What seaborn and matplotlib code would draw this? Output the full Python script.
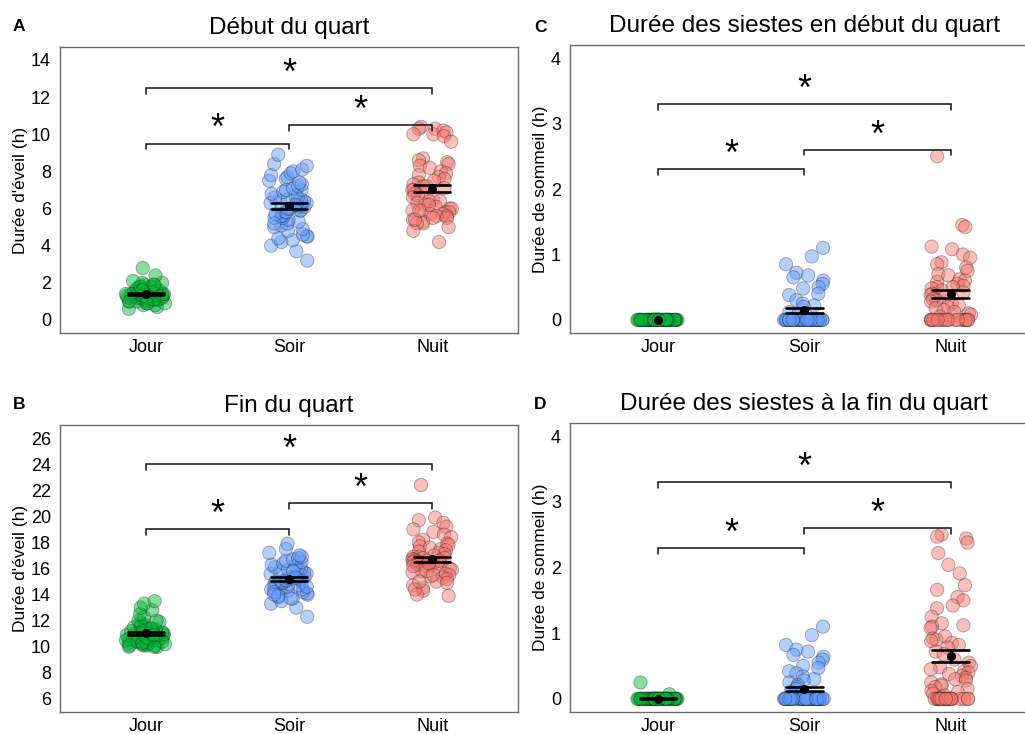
import numpy as np
import pandas as pd
import matplotlib
matplotlib.use("Agg")
import matplotlib.pyplot as plt
from matplotlib.collections import PathCollection
import seaborn as sns

sns.set_style("white")
plt.rcParams["font.family"] = ["Liberation Sans", "DejaVu Sans"]
plt.rcParams["text.color"] = "black"
plt.rcParams["axes.labelcolor"] = "black"

groups = ["Jour", "Soir", "Nuit"]
palette = {"Jour": "#00BA38", "Soir": "#619CFF", "Nuit": "#F8766D"}

# A - Durée d'éveil, début du quart (h)
a_jour = [0.6, 0.7, 0.8, 0.8, 0.9, 0.9, 1.0, 1.0, 1.0, 1.1,
          1.1, 1.1, 1.2, 1.2, 1.2, 1.2, 1.3, 1.3, 1.3, 1.3,
          1.3, 1.4, 1.4, 1.4, 1.4, 1.4, 1.4, 1.5, 1.5, 1.5,
          1.5, 1.5, 1.5, 1.6, 1.6, 1.6, 1.6, 1.7, 1.7, 1.7,
          1.7, 1.8, 1.8, 1.8, 1.9, 1.9, 2.0, 2.0, 2.1, 2.4,
          2.8, 1.3, 1.5, 1.2, 1.6, 1.4, 1.0, 1.1, 0.9, 1.9]
a_soir = [3.2, 3.7, 4.0, 4.2, 4.3, 4.4, 4.5, 4.5, 4.6, 4.8,
          4.9, 5.0, 5.1, 5.2, 5.3, 5.4, 5.5, 5.5, 5.6, 5.6,
          5.7, 5.8, 5.8, 5.9, 5.9, 6.0, 6.0, 6.1, 6.1, 6.2,
          6.2, 6.3, 6.3, 6.4, 6.4, 6.5, 6.5, 6.6, 6.6, 6.7,
          6.8, 6.9, 7.0, 7.0, 7.1, 7.2, 7.3, 7.4, 7.5, 7.6,
          7.7, 7.8, 7.9, 8.0, 8.1, 8.3, 8.4, 8.9, 6.2, 5.2]
a_nuit = [10.4, 10.3, 10.3, 10.2, 10.1, 10.0, 10.0, 9.9, 9.6,
          8.7, 8.6, 8.5, 8.4, 8.3, 8.2, 8.0, 7.9, 7.8, 7.7,
          7.6, 7.5, 7.4, 7.3, 7.2, 7.1, 7.0, 7.0, 6.9, 6.8,
          6.7, 6.6, 6.5, 6.4, 6.4, 6.3, 6.2, 6.1, 6.0, 6.0,
          5.9, 5.9, 5.8, 5.8, 5.7, 5.7, 5.6, 5.6, 5.5, 5.4,
          5.3, 5.2, 5.2, 5.0, 4.8, 4.2, 5.4, 7.2, 6.2, 5.9, 5.5]

# B - Durée d'éveil, fin du quart (h)
b_jour = [10.0, 10.0, 10.1, 10.1, 10.2, 10.2, 10.3, 10.3, 10.4, 10.4,
          10.5, 10.5, 10.6, 10.6, 10.7, 10.7, 10.8, 10.8, 10.9, 10.9,
          11.0, 11.0, 11.0, 11.1, 11.1, 11.2, 11.2, 11.3, 11.3, 11.4,
          11.5, 11.5, 11.6, 11.7, 11.8, 11.9, 12.0, 12.0, 10.6, 10.4,
          12.3, 12.5, 12.8, 13.0, 13.3, 13.5, 10.2, 10.4, 10.6, 10.8,
          11.0, 11.2, 11.4, 10.1, 10.3, 10.5, 10.1, 10.0, 10.7, 10.9]
b_soir = [12.3, 13.0, 13.3, 13.5, 13.7, 13.8, 14.0, 14.1, 14.2, 14.3,
          14.4, 14.5, 14.5, 14.6, 14.7, 14.8, 14.8, 14.9, 14.9, 15.0,
          15.0, 15.1, 15.1, 15.2, 15.2, 15.3, 15.3, 15.4, 15.4, 15.5,
          15.5, 15.6, 15.6, 15.7, 15.8, 15.9, 16.0, 16.0, 16.1, 16.2,
          16.3, 16.4, 16.5, 16.6, 16.7, 16.8, 16.9, 17.0, 17.2, 17.5,
          17.9, 14.4, 13.7, 15.8, 15.0, 14.6, 14.2, 13.9, 15.3, 14.0]
b_nuit = [22.4, 19.9, 19.7, 19.5, 19.2, 19.0, 18.8, 18.6, 18.4, 18.2,
          18.0, 17.9, 17.8, 17.7, 17.6, 17.5, 17.4, 17.3, 17.2, 17.1,
          17.0, 16.9, 16.9, 16.8, 16.8, 16.7, 16.7, 16.6, 16.6, 16.5,
          16.5, 16.4, 16.4, 16.3, 16.3, 16.2, 16.1, 16.0, 15.9, 15.8,
          15.7, 15.6, 15.5, 15.4, 15.3, 15.2, 15.0, 14.9, 14.7, 14.5,
          14.3, 14.0, 13.9, 16.2, 16.6, 14.4, 15.8, 16.4, 15.0, 15.5]

# C - Durée des siestes en début du quart (h)
c_jour = [0.0] * 60
c_soir = [1.1, 0.97, 0.85, 0.72, 0.68, 0.65, 0.6, 0.55, 0.5, 0.48,
          0.4, 0.38, 0.3, 0.25, 0.22, 0.2, 0.12, 0.08] + [0.0] * 44
c_nuit = [2.5, 1.45, 1.42, 1.12, 1.08, 1.0, 0.95, 0.88, 0.85, 0.8,
          0.75, 0.7, 0.68, 0.62, 0.6, 0.58, 0.55,
          0.52, 0.5, 0.5, 0.48, 0.45, 0.42, 0.4, 0.38, 0.35, 0.32,
          0.3, 0.28, 0.25, 0.22, 0.2, 0.18, 0.15, 0.12, 0.1, 0.08,
          0.05] + [0.0] * 19

# D - Durée des siestes à la fin du quart (h)
d_jour = [0.25, 0.07] + [0.0] * 58
d_soir = [1.1, 0.97, 0.82, 0.75, 0.72, 0.67, 0.64, 0.6, 0.55, 0.5,
          0.47, 0.42, 0.39, 0.34, 0.3, 0.28, 0.25, 0.21, 0.18, 0.15,
          0.1] + [0.0] * 48
d_nuit = [2.5, 2.47, 2.44, 2.38, 2.22, 2.04, 1.91, 1.73, 1.66, 1.55,
          1.5, 1.42, 1.38, 1.25, 1.15, 1.12, 1.1, 1.08, 0.95, 0.92,
          0.9, 0.88, 0.85, 0.82, 0.78, 0.72, 0.68, 0.6, 0.55, 0.5,
          0.48, 0.45, 0.42, 0.4, 0.38, 0.35, 0.32, 0.3, 0.28, 0.25,
          0.22, 0.2, 0.18, 0.15, 0.12, 0.1, 0.08, 0.05] + [0.0] * 21


def se_interval(v):
    v = np.asarray(v, dtype=float)
    m = v.mean()
    se = v.std(ddof=1) / np.sqrt(len(v))
    if se == 0:
        return (np.nan, np.nan)
    return (m - se, m + se)


def long_frame(jour, soir, nuit):
    return pd.DataFrame({
        "groupe": ["Jour"] * len(jour) + ["Soir"] * len(soir) + ["Nuit"] * len(nuit),
        "valeur": list(jour) + list(soir) + list(nuit),
    })


def panel(ax, df, ylim, yticks, ylabel, title, brackets, label_x):
    np.random.seed(7)
    sns.stripplot(data=df, x="groupe", y="valeur", hue="groupe", order=groups,
                  hue_order=groups, palette=palette, legend=False, jitter=0.14,
                  size=9.6, edgecolor="black", linewidth=0.6, ax=ax)
    # translucent fill, faint outline
    for coll in ax.collections:
        if isinstance(coll, PathCollection):
            fc = coll.get_facecolors()
            fc[:, 3] = 0.47
            coll.set_facecolor(fc)
            coll.set_edgecolor((0.1, 0.1, 0.1, 0.38))
            coll.set_zorder(2)
    n_lines = len(ax.lines)
    sns.pointplot(data=df, x="groupe", y="valeur", order=groups,
                  errorbar=se_interval, color="black", capsize=0.25,
                  linestyle="none", markersize=4.5,
                  err_kws={"linewidth": 1.9}, ax=ax)
    for ln in ax.lines[n_lines:]:
        ln.set_zorder(5)
    ax.set_xlim(-0.6, 2.6)
    ax.set_ylim(*ylim)
    ax.set_yticks(yticks)
    ax.set_xlabel("")
    ax.set_ylabel(ylabel, fontsize=12.5, color="black")
    ax.yaxis.set_label_coords(label_x, 0.5)
    ax.set_title(title, fontsize=17.5, pad=9.5, color="black")
    ax.tick_params(axis="both", labelsize=13, length=3.5, width=0.8,
                   color="#333333", labelcolor="black", pad=3)
    ax.tick_params(axis="x", pad=1)
    for s in ax.spines.values():
        s.set_visible(True)
        s.set_color("#6b6b6b")
        s.set_linewidth(1.0)
    d = 0.02 * (ylim[1] - ylim[0])
    for i, j, y in brackets:
        ax.plot([i, i, j, j], [y - d, y, y, y - d], color="#111111",
                lw=1.1, solid_joinstyle="miter")
        ax.annotate("*", xy=((i + j) / 2, y), xytext=(0, 3),
                    textcoords="offset points", ha="center", va="baseline",
                    fontsize=26, color="black")


W, H = 1025, 734
fig = plt.figure(figsize=(W / 100, H / 100), dpi=100)


def axes_at(left, top, right, bottom):
    return fig.add_axes([left / W, 1 - bottom / H, (right - left) / W,
                         (bottom - top) / H])


ax_a = axes_at(60, 47, 518, 333)
ax_b = axes_at(60, 425, 518, 712)
ax_c = axes_at(570, 45, 1038.6, 333)
ax_d = axes_at(570, 423, 1038.6, 712)

panel(ax_a, long_frame(a_jour, a_soir, a_nuit), (-0.7, 14.7), range(0, 15, 2),
      "Durée d'éveil (h)", "Début du quart",
      [(0, 1, 9.5), (1, 2, 10.5), (0, 2, 12.5)], -0.069)
panel(ax_b, long_frame(b_jour, b_soir, b_nuit), (5, 27), range(6, 27, 2),
      "Durée d'éveil (h)", "Fin du quart",
      [(0, 1, 19), (1, 2, 21), (0, 2, 24)], -0.069)
panel(ax_c, long_frame(c_jour, c_soir, c_nuit), (-0.2, 4.2), range(0, 5),
      "Durée de sommeil (h)", "Durée des siestes en début du quart",
      [(0, 1, 2.3), (1, 2, 2.6), (0, 2, 3.3)], -0.046)
panel(ax_d, long_frame(d_jour, d_soir, d_nuit), (-0.2, 4.2), range(0, 5),
      "Durée de sommeil (h)", "Durée des siestes à la fin du quart",
      [(0, 1, 2.3), (1, 2, 2.6), (0, 2, 3.3)], -0.046)

for letter, x, y in [("A", 12.7, 30.7), ("C", 534, 32), ("B", 12.7, 409), ("D", 534, 409)]:
    fig.text(x / W, 1 - y / H, letter, fontsize=12.5, fontweight="bold",
             ha="left", va="baseline", color="black")

fig.savefig("out.png", dpi=100)
